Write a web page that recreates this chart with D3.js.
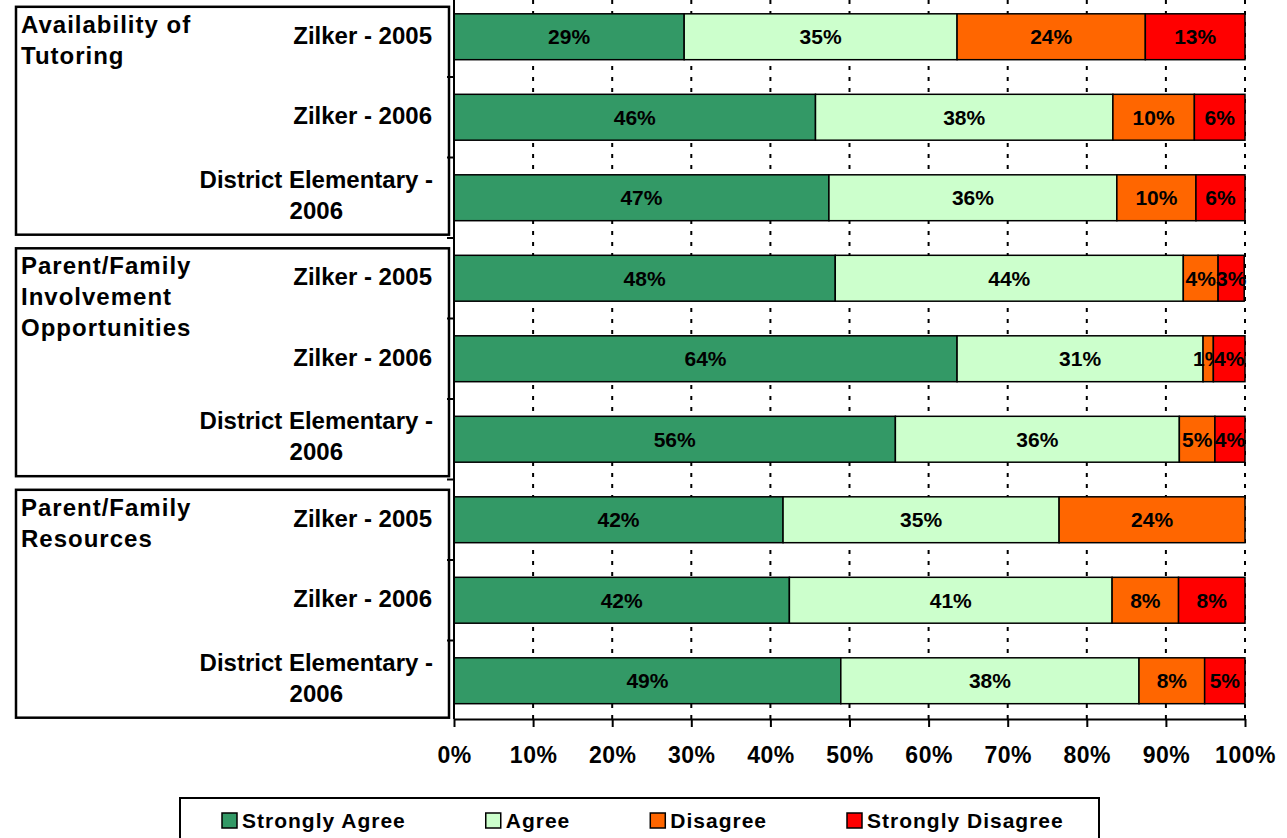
<!DOCTYPE html>
<html>
<head>
<meta charset="utf-8">
<script src="https://cdn.jsdelivr.net/npm/d3@7"></script>
<style>
  body { margin: 0; background: #fff; }
  svg text { font-family: "Liberation Sans", Arial, sans-serif; font-weight: bold; fill: #000; }
</style>
</head>
<body>
<svg id="chart" width="1287" height="838"></svg>
<script>
// data (percent of responses)
var groups = ["Availability of|Tutoring", "Parent/Family|Involvement|Opportunities", "Parent/Family|Resources"];
var categories = ["Zilker - 2005", "Zilker - 2006", "District Elementary -|2006"];
var seriesNames = ["Strongly Agree", "Agree", "Disagree", "Strongly Disagree"];
var colours = ["#339966", "#CCFFCC", "#FF6600", "#FF0000"];

var stronglyAgree    = [29.1, 45.7, 47.4, 48.2, 63.6, 55.8, 41.6, 42.4, 48.9];
var agree            = [34.5, 37.6, 36.4, 44.0, 31.1, 35.9, 34.9, 40.8, 37.7];
var disagree         = [23.8, 10.3, 10.0,  4.4,  1.3,  4.5, 23.5,  8.4,  8.3];
var stronglyDisagree = [12.6,  6.4,  6.2,  3.3,  4.0,  3.8,  0.0,  8.4,  5.1];

var xTicks = [0, 10, 20, 30, 40, 50, 60, 70, 80, 90, 100];

var rows = [];
groups.forEach(function(g, gi) {
	categories.forEach(function(c, ci) {
		var i = gi * 3 + ci;
		rows.push({ id: i, group: gi, cat: c,
			"Strongly Agree": stronglyAgree[i], "Agree": agree[i],
			"Disagree": disagree[i], "Strongly Disagree": stronglyDisagree[i] });
	});
});

var svg = d3.select("#chart");
var plotLeft = 454, plotRight = 1245, axisY = 719;

var x = d3.scaleLinear().domain([0, 100]).range([plotLeft, plotRight]);
var y = d3.scaleBand().domain(rows.map(function(d) { return d.id; }))
	.range([-3.5, 721]).paddingInner(0.43).paddingOuter(0.215);
var colour = d3.scaleOrdinal().domain(seriesNames).range(colours);

var stack = d3.stack().keys(seriesNames);
var layers = stack(rows);

// dotted grid
svg.append("g").selectAll("line").data(xTicks.slice(1)).enter().append("line")
	.attr("x1", function(d) { return x(d); }).attr("x2", function(d) { return x(d); })
	.attr("y1", 0).attr("y2", axisY)
	.attr("stroke", "#000").attr("stroke-width", 2).attr("stroke-dasharray", "4,7");

// group boxes
var boxes = svg.append("g");
groups.forEach(function(g, gi) {
	var y0 = y(gi * 3) - 7, y1 = Math.min(y(gi * 3 + 2) + y.bandwidth() + 14, axisY - 1);
	boxes.append("rect").attr("x", 16).attr("y", y0).attr("width", 433).attr("height", y1 - y0)
		.attr("fill", "none").attr("stroke", "#000").attr("stroke-width", 2.5);
	var t = boxes.append("text").attr("x", 21).attr("y", y0 + 26)
		.style("font-size", "24px").style("letter-spacing", "1px");
	g.split("|").forEach(function(line, li) {
		t.append("tspan").attr("x", 21).attr("dy", li ? 31 : 0).text(line);
	});
});

// category labels
rows.forEach(function(d) {
	var cy = y(d.id) + y.bandwidth() / 2;
	var lines = d.cat.split("|");
	if (lines.length === 1) {
		svg.append("text").attr("x", 432).attr("y", cy + 7).attr("text-anchor", "end")
			.style("font-size", "24px").text(lines[0]);
	} else {
		var t1 = svg.append("text").attr("x", 433).attr("y", cy - 10).attr("text-anchor", "end")
			.style("font-size", "24px").text(lines[0]);
		var w = t1.node().getComputedTextLength();
		svg.append("text").attr("x", 433 - w / 2).attr("y", cy + 21).attr("text-anchor", "middle")
			.style("font-size", "24px").text(lines[1]);
	}
});

// bars
var layer = svg.append("g").selectAll("g").data(layers).enter().append("g")
	.attr("fill", function(d) { return colour(d.key); });
layer.selectAll("rect").data(function(d) { return d; }).enter().append("rect")
	.attr("x", function(d) { return x(d[0]); })
	.attr("y", function(d) { return y(d.data.id); })
	.attr("width", function(d) { return x(d[1]) - x(d[0]); })
	.attr("height", y.bandwidth())
	.attr("stroke", "#000").attr("stroke-width", 1.5);

// value labels
layer.selectAll("text").data(function(d) { return d.filter(function(p) { return p[1] - p[0] > 0; }); })
	.enter().append("text")
	.attr("x", function(d) { return (x(d[0]) + x(d[1])) / 2; })
	.attr("y", function(d) { return y(d.data.id) + y.bandwidth() / 2 + 7.5; })
	.attr("text-anchor", "middle").style("font-size", "21px")
	.text(function(d) { return Math.round(d[1] - d[0]) + "%"; });

// y axis line with band ticks
var yAxis = svg.append("g").attr("transform", "translate(" + plotLeft + ",0)")
	.call(d3.axisLeft(y).tickValues([]).tickSizeOuter(0));
yAxis.select(".domain").attr("stroke-width", 2).attr("d", "M0,0V" + axisY);
yAxis.selectAll(".bt").data(d3.range(1, rows.length)).enter().append("line")
	.attr("x1", -7).attr("x2", 0)
	.attr("y1", function(i) { return y(i) - y.step() * y.paddingInner() / 2; })
	.attr("y2", function(i) { return y(i) - y.step() * y.paddingInner() / 2; })
	.attr("stroke", "#000").attr("stroke-width", 2);

// x axis
var xAxis = svg.append("g").attr("transform", "translate(0," + axisY + ")")
	.call(d3.axisBottom(x).tickValues(xTicks).tickSize(8).tickSizeOuter(0).tickPadding(20)
		.tickFormat(function(d) { return d + "%"; }));
xAxis.select(".domain").attr("stroke-width", 2);
xAxis.selectAll(".tick line").attr("stroke-width", 2);
xAxis.selectAll("text").style("font-size", "23px").attr("font-family", null)
	.style("letter-spacing", "0.5px");

// legend
var legend = svg.append("g");
legend.append("rect").attr("x", 180).attr("y", 798).attr("width", 919).attr("height", 60)
	.attr("fill", "none").attr("stroke", "#000").attr("stroke-width", 2);
var lx = 222;
seriesNames.forEach(function(s) {
	legend.append("rect").attr("x", lx).attr("y", 813).attr("width", 15).attr("height", 15)
		.attr("fill", colour(s)).attr("stroke", "#000").attr("stroke-width", 1.5);
	var t = legend.append("text").attr("x", lx + 20).attr("y", 828)
		.style("font-size", "21px").style("letter-spacing", "1px").text(s);
	lx += 20 + t.node().getComputedTextLength() + 80;
});
</script>
</body>
</html>
